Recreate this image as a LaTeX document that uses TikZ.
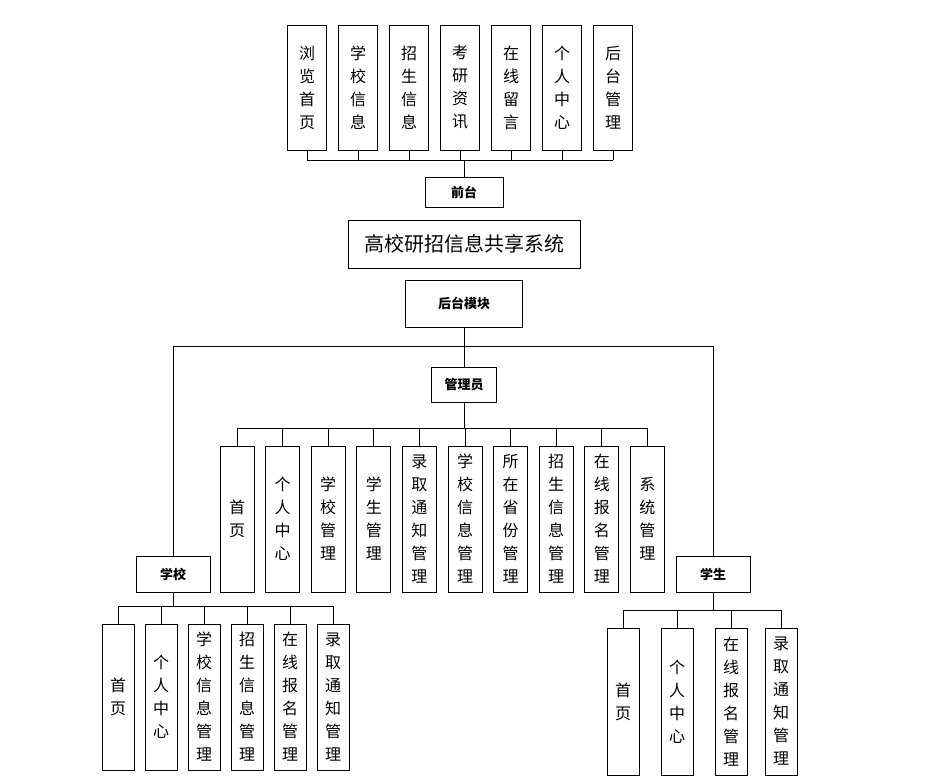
\documentclass[tikz,border=0pt]{standalone}
\usepackage{fontspec}
\setmainfont{Noto Sans CJK SC}
\usetikzlibrary{positioning}

\begin{document}
\begin{tikzpicture}[x=1pt,y=-1pt,line width=0.8pt]
  \tikzset{box/.style={draw, rectangle, inner sep=0pt, align=center},
    vbox/.style={box, font=\fontsize{16}{23}\selectfont},
    lbl/.style={box, font=\fontsize{13}{15}\selectfont\bfseries}}
  \useasboundingbox (0,0) rectangle (940,784);
  % front end
  \foreach \t [count=\i] in {{浏\\览\\首\\页},{学\\校\\信\\息},{招\\生\\信\\息},{考\\研\\资\\讯},{在\\线\\留\\言},{个\\人\\中\\心},{后\\台\\管\\理}}
    \node [vbox, minimum width=39, minimum height=125] (f\i) at ({307+51*(\i-1)}, 87.5) {\t};
  \coordinate (fbus) at (0,160);
  \foreach \i in {1,...,7}
    \draw (f\i.south) -- (f\i.south |- fbus);
  \draw (f1.south |- fbus) -- (f7.south |- fbus);
  \node [lbl, minimum width=78, minimum height=30] (qt) at (464,192) {前台};
  \draw (qt.north) -- (qt.north |- fbus);
  \node [box, minimum width=232, minimum height=48, font=\fontsize{20}{22}\selectfont] (sys) at (464,244) {高校研招信息共享系统};
  \node [lbl, minimum width=117, minimum height=47] (ht) at (464,303.5) {后台模块};
  % back end
  \node [lbl, minimum width=65, minimum height=35] (adm) at (464,384.5) {管理员};
  \node [lbl, minimum width=74, minimum height=36] (sch) at (173,574) {学校};
  \node [lbl, minimum width=74, minimum height=36] (stu) at (713,574) {学生};
  \coordinate (hbus) at (0,346);
  \draw (ht.south) -- (ht.south |- hbus);
  \draw (sch.north) -- (sch.north |- hbus) -- (stu.north |- hbus) -- (stu.north);
  \draw (adm.north) -- (adm.north |- hbus);
  % administrator
  \foreach \t [count=\i] in {{首\\页},{个\\人\\中\\心},{学\\校\\管\\理},{学\\生\\管\\理},{录\\取\\通\\知\\管\\理},{学\\校\\信\\息\\管\\理},{所\\在\\省\\份\\管\\理},{招\\生\\信\\息\\管\\理},{在\\线\\报\\名\\管\\理},{系\\统\\管\\理}}
    \node [vbox, minimum width=34, minimum height=146] (a\i) at ({237+45.6*(\i-1)}, 519) {\t};
  \coordinate (abus) at (0,428);
  \foreach \i in {1,...,10}
    \draw (a\i.north) -- (a\i.north |- abus);
  \draw (a1.north |- abus) -- (a10.north |- abus);
  \draw (adm.south) -- (adm.south |- abus);
  % school
  \foreach \t [count=\i] in {{首\\页},{个\\人\\中\\心},{学\\校\\信\\息\\管\\理},{招\\生\\信\\息\\管\\理},{在\\线\\报\\名\\管\\理},{录\\取\\通\\知\\管\\理}}
    \node [vbox, minimum width=32, minimum height=146] (s\i) at ({118+43*(\i-1)}, 697) {\t};
  \coordinate (sbus) at (0,606);
  \foreach \i in {1,...,6}
    \draw (s\i.north) -- (s\i.north |- sbus);
  \draw (s1.north |- sbus) -- (s6.north |- sbus);
  \draw (sch.south) -- (sch.south |- sbus);
  % student
  \foreach \t/\x [count=\i] in {{首\\页}/623,{个\\人\\中\\心}/677,{在\\线\\报\\名\\管\\理}/731,{录\\取\\通\\知\\管\\理}/781}
    \node [vbox, minimum width=32, minimum height=147] (t\i) at (\x, 701.5) {\t};
  \coordinate (tbus) at (0,610);
  \foreach \i in {1,...,4}
    \draw (t\i.north) -- (t\i.north |- tbus);
  \draw (t1.north |- tbus) -- (t4.north |- tbus);
  \draw (stu.south) -- (stu.south |- tbus);
\end{tikzpicture}
\end{document}
